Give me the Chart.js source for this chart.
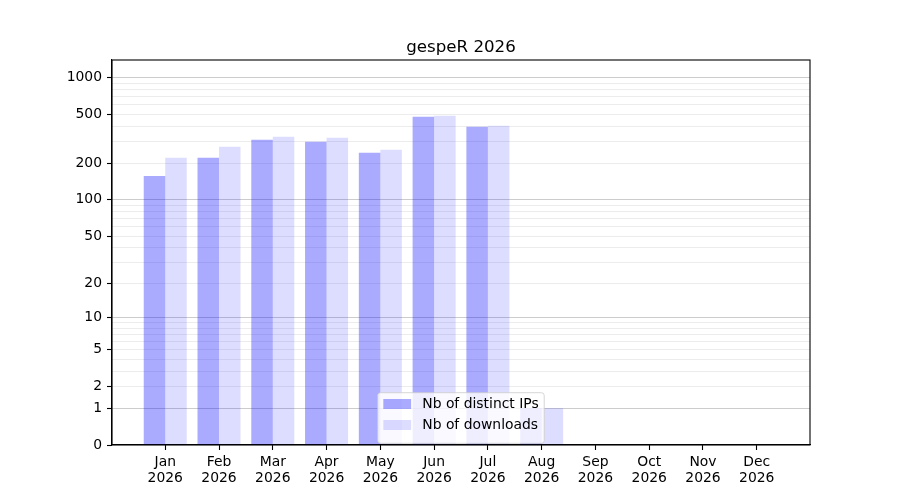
<!DOCTYPE html>
<html>
<head>
<meta charset="utf-8">
<script src="https://cdn.jsdelivr.net/npm/chart.js@4.4.0/dist/chart.umd.min.js"></script>
<style>
  html, body { margin: 0; padding: 0; background: #fff; }
  canvas { display: block; }
</style>
</head>
<body>
<canvas id="chart" width="900" height="500"></canvas>
<script>
// --- data ---
const title = "gespeR 2026";
const categories = ["Jan 2026", "Feb 2026", "Mar 2026", "Apr 2026", "May 2026", "Jun 2026",
                    "Jul 2026", "Aug 2026", "Sep 2026", "Oct 2026", "Nov 2026", "Dec 2026"];
const distinctIPs = [157, 221, 311, 299, 243, 480, 397, 1, 0, 0, 0, 0];
const downloads = [221, 272, 329, 323, 257, 489, 405, 1, 0, 0, 0, 0];
const yLabelTicks = [0, 1, 2, 5, 10, 20, 50, 100, 200, 500, 1000];
const yMajorGrid = [1, 10, 100, 1000];
const yMinorGrid = [2, 3, 4, 5, 6, 7, 8, 9, 20, 30, 40, 50, 60, 70, 80, 90,
                    200, 300, 400, 500, 600, 700, 800, 900];
const yMax = 1398;

const FONT = "'DejaVu Sans', sans-serif";
const COLOR_IPS = "rgba(0,0,255,0.333)";
const COLOR_DL = "rgba(0,0,255,0.133)";

// ––– escala log(1+x) como no matplotlib –––
class Log1pScale extends Chart.LinearScale {
  static id = "log1p";
  static defaults = Chart.LinearScale.defaults;
  buildTicks() {
    const all = [0].concat(yMajorGrid, yMinorGrid).sort((a, b) => a - b);
    return all.filter(v => v >= this.min && v <= this.max).map(v => ({ value: v }));
  }
  configure() {
    super.configure();
    this._startValue = Math.log10(this.min + 1);
    this._valueRange = Math.log10(this.max + 1) - this._startValue;
  }
  getPixelForValue(value) {
    return this.getPixelForDecimal((Math.log10(value + 1) - this._startValue) / this._valueRange);
  }
  getValueForPixel(pixel) {
    return Math.pow(10, this._startValue + this.getDecimalForPixel(pixel) * this._valueRange) - 1;
  }
}
Chart.register(Log1pScale);

// título, moldura e legenda
const framePlugin = {
  id: "frame",
  afterDraw(chart) {
    const ctx = chart.ctx;
    const a = chart.chartArea;
    ctx.save();
    // título
    ctx.fillStyle = "#000";
    ctx.font = "16.67px " + FONT;
    ctx.textAlign = "center";
    ctx.textBaseline = "alphabetic";
    ctx.fillText(title, (a.left + a.right) / 2, a.top - 8.3);
    // moldura
    ctx.strokeStyle = "#000";
    ctx.lineWidth = 1.1;
    ctx.strokeRect(a.left, a.top, a.right - a.left, a.bottom - a.top);
    // legenda
    const fs = 13.9;
    ctx.font = fs + "px " + FONT;
    const items = chart.data.datasets.map(d => ({ label: d.label, color: d.backgroundColor }));
    const textW = Math.max(...items.map(it => ctx.measureText(it.label).width));
    const pad = 0.4 * fs, handle = 2 * fs, gap = 0.8 * fs;
    const w = pad + handle + gap + textW + pad;
    const h = 50.6;
    const x0 = (a.left + a.right) / 2 - w / 2;
    const y0 = a.bottom - 1.7 - h;
    ctx.beginPath();
    ctx.roundRect(x0, y0, w, h, 2.8);
    ctx.fillStyle = "rgba(255,255,255,0.8)";
    ctx.fill();
    ctx.strokeStyle = "rgba(204,204,204,0.8)";
    ctx.lineWidth = 1;
    ctx.stroke();
    ctx.textAlign = "left";
    ctx.textBaseline = "middle";
    items.forEach((it, i) => {
      const cy = y0 + 11.3 + i * 21;
      ctx.fillStyle = it.color;
      ctx.fillRect(x0 + pad, cy - 5, handle, 10);
      ctx.fillStyle = "#000";
      ctx.fillText(it.label, x0 + pad + handle + gap, cy);
    });
    ctx.restore();
  }
};

new Chart(document.getElementById("chart"), {
  type: "bar",
  data: {
    datasets: [
      {
        label: "Nb of distinct IPs",
        data: distinctIPs.map((v, i) => ({ x: i, y: v })),
        backgroundColor: COLOR_IPS,
        borderWidth: 0
      },
      {
        label: "Nb of downloads",
        data: downloads.map((v, i) => ({ x: i, y: v })),
        backgroundColor: COLOR_DL,
        borderWidth: 0
      }
    ]
  },
  options: {
    responsive: false,
    animation: false,
    categoryPercentage: 0.8,
    barPercentage: 1.0,
    layout: { padding: { top: 60, right: 90, left: 0, bottom: 0 } },
    plugins: {
      legend: { display: false },
      title: { display: false },
      tooltip: { enabled: false }
    },
    scales: {
      x: {
        type: "linear",
        offset: false,
        min: -0.99,
        max: 11.99,
        afterBuildTicks: scale => {
          scale.ticks = categories.map((_, i) => ({ value: i }));
        },
        afterFit: scale => { scale.height = 55; },
        grid: { offset: false, drawOnChartArea: false, tickColor: "#000", tickLength: 5, tickWidth: 1.1 },
        border: { color: "#000", width: 1.1 },
        ticks: {
          autoSkip: false,
          maxRotation: 0,
          padding: 4,
          color: "#000",
          font: { family: FONT, size: 13.9, lineHeight: 1.15 },
          callback: value => categories[value] ? categories[value].split(" ") : ""
        }
      },
      y: {
        type: "log1p",
        min: 0,
        max: yMax,
        afterFit: scale => { scale.width = 112; },
        grid: {
          color: ctx => {
            const v = ctx.tick.value;
            if (yMajorGrid.includes(v)) return "rgba(0,0,0,0.2)";
            if (yMinorGrid.includes(v)) return "rgba(0,0,0,0.075)";
            return "rgba(0,0,0,0)";
          },
          tickColor: ctx => yLabelTicks.includes(ctx.tick.value) ? "#000" : "rgba(0,0,0,0)",
          tickLength: 5,
          tickWidth: 1.1,
          lineWidth: 1
        },
        border: { color: "#000", width: 1.1 },
        ticks: {
          padding: 5,
          color: "#000",
          autoSkip: false,
          font: { family: FONT, size: 13.9 },
          callback: value => yLabelTicks.includes(value) ? String(value) : ""
        }
      }
    }
  },
  plugins: [framePlugin]
});
</script>
</body>
</html>
